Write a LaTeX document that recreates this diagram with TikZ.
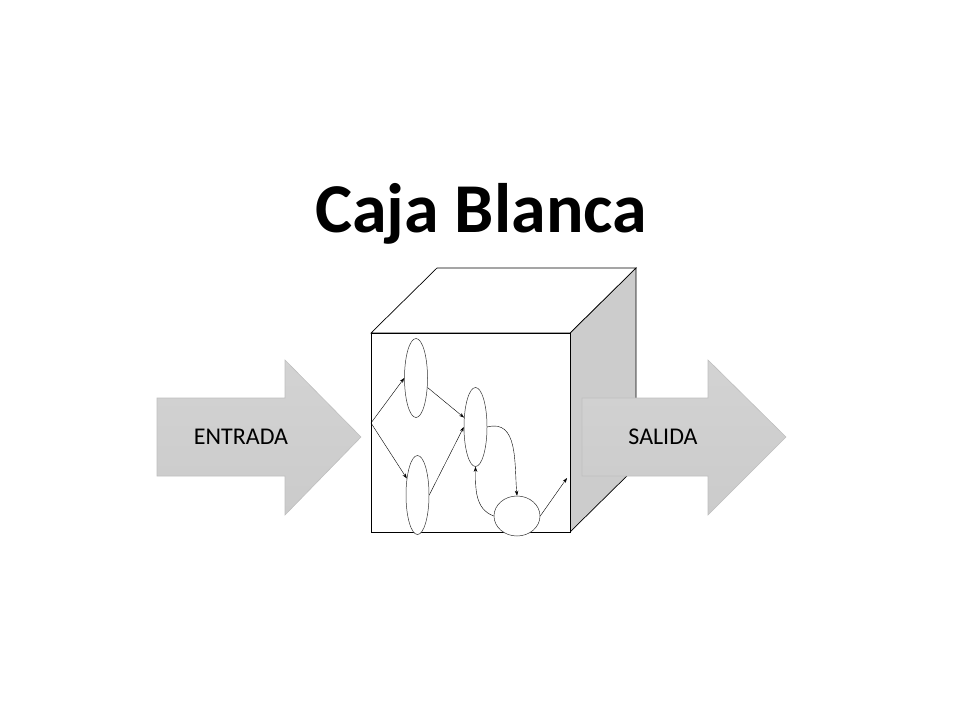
\documentclass[tikz,border=0pt]{standalone}
\usepackage{fontspec}
\setmainfont{Carlito}
\usetikzlibrary{shapes.geometric, arrows.meta}
\definecolor{arrowgray}{HTML}{CBCBCB}
\definecolor{arrowline}{HTML}{BFBFBF}
\definecolor{sidegray}{HTML}{CCCCCC}
\begin{document}
\begin{tikzpicture}[x=1pt, y=-1pt,
    state/.style={draw=black!80, line width=0.5pt, fill=white, ellipse, inner sep=0pt,
      minimum width=23pt, minimum height=79pt},
    flow/.style={-{Stealth[length=5pt, width=3.5pt]}, line width=0.4pt},
    bigarrow/.style={draw=arrowline, line width=0.6pt, top color=arrowgray!85, bottom color=arrowgray},
    label/.style={font=\fontsize{24}{28}\selectfont, anchor=base}]
    \useasboundingbox (0,0) rectangle (960,720);

    \node[anchor=base, font=\fontsize{70}{84}\selectfont\bfseries] (title) at (481,232) {Caja Blanca};

    % the cube
    \draw[line width=0.7pt, fill=sidegray] (570,333) -- (636,268) -- (636,467) -- (570,532) -- cycle;
    \draw[line width=0.7pt, fill=white] (371,333) -- (437,268) -- (636,268) -- (570,333) -- cycle;
    \draw[line width=0.7pt, fill=white] (371,333) rectangle (570,532);

    % input and output
    \draw[bigarrow] (157,398) -- (285,398) -- (285,360) -- (361,437) -- (285,515) -- (285,476) -- (157,476) -- cycle;
    \draw[bigarrow] (582,398) -- (708,398) -- (708,360) -- (786,437) -- (708,515) -- (708,476) -- (582,476) -- cycle;
    \node[label] (entrada) at (241,444) {ENTRADA};
    \node[label] (salida) at (663,444) {SALIDA};

    % inside the box
    \coordinate (start) at (371,423);
    \coordinate (exit) at (567,478);
    \node[state] (s1) at (416,378) {};
    \node[state] (s2) at (417.5,495) {};
    \node[state] (s3) at (475.5,427) {};
    \node[state, minimum width=46pt, minimum height=40pt] (s4) at (517,516) {};

    \draw[flow] (start) -- (s1.west);
    \draw[flow] (start) -- (s2);
    \draw[flow] (s1) -- (s3);
    \draw[flow] (s2.east) -- (s3.west);
    \draw[flow] (s3.east) to[out=15, in=95, looseness=1.1] (s4.north);
    \draw[flow] (s4.west) to[out=160, in=-90] (s3.south);
    \draw[flow] (s4.east) -- (exit);
\end{tikzpicture}
\end{document}
